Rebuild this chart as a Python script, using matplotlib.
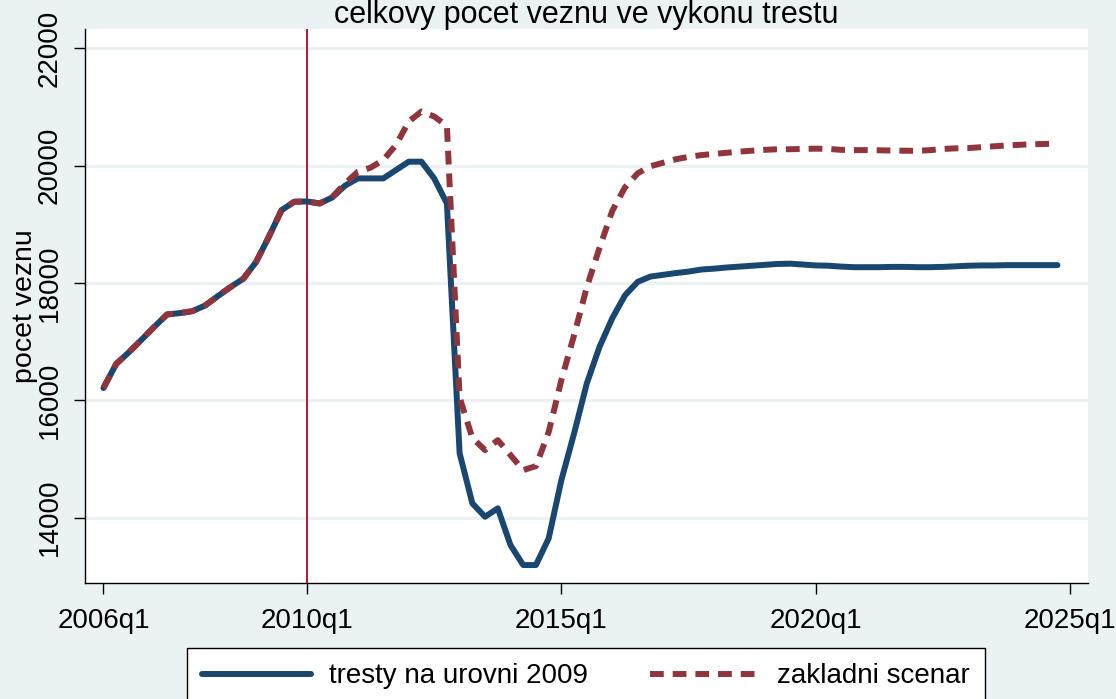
import numpy as np
import pandas as pd
import matplotlib
matplotlib.use("Agg")
import matplotlib.pyplot as plt

plt.rcParams['font.family'] = ['Liberation Sans', 'DejaVu Sans']

# quarters 2006q1 .. 2024q4
quarters = pd.period_range('2006Q1', '2024Q4', freq='Q')

tresty_2009 = [
    16211, 16621, 16820, 17035, 17254, 17464, 17487, 17521, 17618, 17778,
    17932, 18074, 18359, 18786, 19242, 19385, 19390, 19356, 19460, 19660,
    19783, 19783, 19783, 19926, 20068, 20068, 19783, 19356, 15100, 14245,
    14017, 14160, 13534, 13194, 13194, 13648, 14642, 15438, 16290, 16913,
    17400, 17790, 18020, 18110, 18140, 18170, 18195, 18230, 18245, 18265,
    18280, 18295, 18310, 18325, 18330, 18315, 18300, 18295, 18280, 18270,
    18270, 18270, 18275, 18275, 18270, 18270, 18275, 18285, 18295, 18300,
    18300, 18305, 18305, 18305, 18305, 18305]

zakladni = [
    16211, 16621, 16820, 17035, 17254, 17464, 17487, 17521, 17618, 17778,
    17932, 18074, 18359, 18786, 19242, 19385, 19390, 19356, 19470, 19698,
    19897, 19966, 20097, 20353, 20752, 20923, 20838, 20680, 16050, 15360,
    15153, 15323, 15068, 14812, 14880, 15460, 16346, 17113, 17930, 18600,
    19230, 19630, 19870, 19990, 20050, 20110, 20150, 20180, 20200, 20220,
    20240, 20255, 20270, 20280, 20280, 20285, 20290, 20285, 20270, 20265,
    20265, 20262, 20258, 20255, 20252, 20265, 20285, 20295, 20300, 20315,
    20330, 20345, 20355, 20365, 20370, 20375]

xtick_labels = ['2006q1', '2010q1', '2015q1', '2020q1', '2025q1']
ytick_values = [14000, 16000, 18000, 20000, 22000]
marker_quarter = '2010q1'

def qindex(label):
    y, q = int(label[:4]), int(label[-1])
    return (y - 2006) * 4 + (q - 1)

t = np.array([(p.year - 2006) * 4 + (p.quarter - 1) for p in quarters])

BG = '#EAF2F3'
BLUE = '#1A476F'
RED = '#90353B'

W, H = 1116, 699
fig = plt.figure(figsize=(W / 100, H / 100), dpi=100, facecolor=BG)
ax = fig.add_axes([85 / W, 1 - 583 / H, (1088 - 85) / W, (583 - 29.3) / H])
ax.set_facecolor('white')

lw = 4.3
ax.plot(t, tresty_2009, color=BLUE, lw=lw, solid_capstyle='round',
        solid_joinstyle='round', label='tresty na urovni 2009', zorder=3)
ax.plot(t, zakladni, color=RED, lw=lw, linestyle=(0, (2.3, 1.5)),
        dash_capstyle='butt', label='zakladni scenar', zorder=4)
ax.axvline(qindex(marker_quarter), color='#C8102E', lw=1.4, zorder=2)

ax.set_xlim(-1.45, 77.4)
ax.set_ylim(12888, 22324)
ax.set_xticks([qindex(l) for l in xtick_labels])
ax.set_xticklabels(xtick_labels)
ax.set_yticks(ytick_values)
ax.set_yticklabels([str(v) for v in ytick_values], rotation=90, va='center')
ax.grid(axis='y', color=BG, lw=2.2, zorder=0)
ax.grid(axis='x', visible=False)

for s in ['top', 'right']:
    ax.spines[s].set_visible(False)
for s in ['left', 'bottom']:
    ax.spines[s].set_color('black')
    ax.spines[s].set_linewidth(1.0)

ax.tick_params(axis='both', labelsize=20, length=8, width=1.0, color='black')
ax.tick_params(axis='y', pad=8)
ax.tick_params(axis='x', pad=10)
ax.set_ylabel('pocet veznu', fontsize=20.5, labelpad=-1)

fig.text(586 / W, 1 - 22.5 / H, 'celkovy pocet veznu ve vykonu trestu',
         fontsize=22, ha='center', va='baseline')

leg = fig.legend(loc='upper center', bbox_to_anchor=(586 / W, 1 - 648 / H),
                 ncol=2, fontsize=20, frameon=True, fancybox=False,
                 edgecolor='black', facecolor='white', framealpha=1,
                 handlelength=3.9, handletextpad=0.65, columnspacing=2.25,
                 borderpad=0.55, borderaxespad=0)
leg.get_frame().set_linewidth(1.0)

fig.savefig('out.png', dpi=100, facecolor=BG)
